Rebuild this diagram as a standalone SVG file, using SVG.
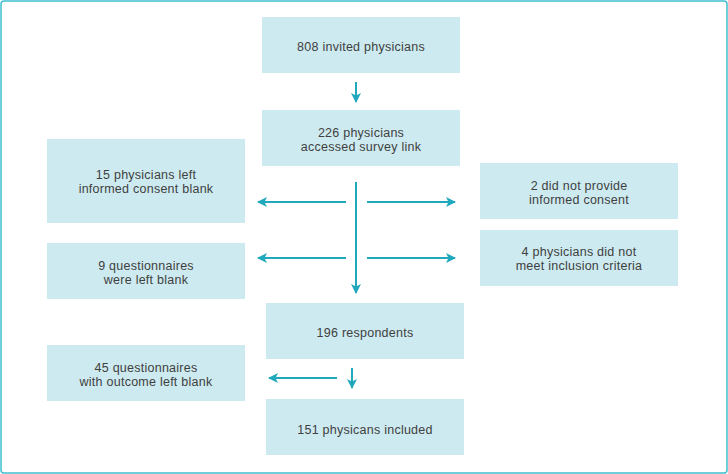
<svg xmlns="http://www.w3.org/2000/svg" width="728" height="474" viewBox="0 0 728 474">
<defs>
<marker id="ah" viewBox="0 0 10 10" refX="9" refY="5" markerWidth="10" markerHeight="10" markerUnits="userSpaceOnUse" orient="auto">
<path d="M0,0 L10,5 L0,10 L2.5,5 Z" fill="#20a9bd"/>
</marker>
</defs>
<style>
.box{fill:#cdeaf0;}
.t{font-family:"Liberation Sans",Arial,sans-serif;font-size:12.5px;letter-spacing:0.25px;fill:#3f3f3f;text-anchor:middle;}
.c{stroke:#20a9bd;stroke-width:2;fill:none;marker-end:url(#ah);}
</style>
<rect x="1" y="1" width="726" height="472" rx="3" fill="#fff" stroke="#3fc0d0" stroke-width="1.5"/>
<g id="invited"><rect class="box" x="262" y="17" width="198" height="56"/><text class="t" x="361" y="51">808 invited physicians</text></g>
<g id="accessed"><rect class="box" x="262" y="110" width="198" height="56"/><text class="t" x="361" y="137">226 physicians</text><text class="t" x="361" y="151">accessed survey link</text></g>
<g id="consentblank"><rect class="box" x="47" y="139" width="198" height="84"/><text class="t" x="146" y="179">15 physicians left</text><text class="t" x="146" y="193">informed consent blank</text></g>
<g id="qblank"><rect class="box" x="47" y="243" width="198" height="56"/><text class="t" x="146" y="270">9 questionnaires</text><text class="t" x="146" y="284">were left blank</text></g>
<g id="noconsent"><rect class="box" x="480" y="163" width="198" height="56"/><text class="t" x="579" y="190">2 did not provide</text><text class="t" x="579" y="204">informed consent</text></g>
<g id="noinclusion"><rect class="box" x="480" y="230" width="198" height="56"/><text class="t" x="579" y="256">4 physicians did not</text><text class="t" x="579" y="270">meet inclusion criteria</text></g>
<g id="respondents"><rect class="box" x="266" y="303" width="198" height="56"/><text class="t" x="365" y="337">196 respondents</text></g>
<g id="outcomeblank"><rect class="box" x="47" y="345" width="198" height="56"/><text class="t" x="146" y="372">45 questionnaires</text><text class="t" x="146" y="386">with outcome left blank</text></g>
<g id="included"><rect class="box" x="266" y="399" width="198" height="56"/><text class="t" x="365" y="434">151 physicans included</text></g>
<g id="connectors">
<line class="c" x1="356" y1="82" x2="356" y2="102"/>
<line class="c" x1="356" y1="182" x2="356" y2="293"/>
<line class="c" x1="346" y1="202" x2="258" y2="202"/>
<line class="c" x1="367" y1="202" x2="455" y2="202"/>
<line class="c" x1="346" y1="258" x2="258" y2="258"/>
<line class="c" x1="367" y1="258" x2="455" y2="258"/>
<line class="c" x1="337" y1="378" x2="269" y2="378"/>
<line class="c" x1="352" y1="368" x2="352" y2="388"/>
</g>
</svg>
